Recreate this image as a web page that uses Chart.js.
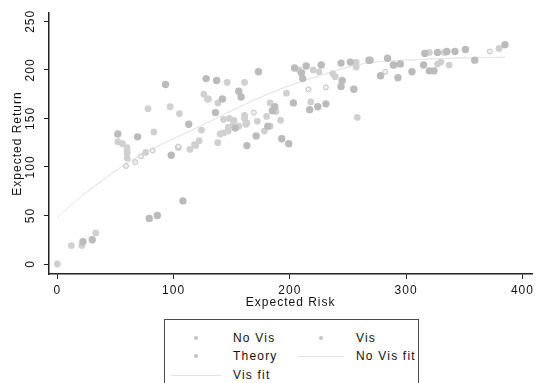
<!DOCTYPE html>
<html>
<head>
<meta charset="utf-8">
<title>Expected Return vs Expected Risk</title>
<script src="https://cdn.jsdelivr.net/npm/chart.js@4.4.1/dist/chart.umd.min.js"></script>
<style>
  html, body { margin: 0; padding: 0; background: #fff; overflow: hidden; }
  #wrap { position: relative; width: 538px; height: 383px; }
  #legend {
    position: absolute; left: 164px; top: 319px; width: 255px; height: 80px;
    box-sizing: border-box; border: 1.5px solid #4a4a4a; background: #fff;
    font: 12px "Liberation Sans", Arial, sans-serif; letter-spacing: 1.2px; color: #111;
  }
  .lg-dot { position: absolute; width: 4px; height: 4px; border-radius: 50%; background: #c4c4c4; }
  .lg-line { position: absolute; height: 1px; background: #e2e2e2; }
  .lg-text { position: absolute; line-height: 14px; white-space: nowrap; }
</style>
</head>
<body>
<div id="wrap">
  <canvas id="chart" width="538" height="383"></canvas>
  <div id="legend"></div>
</div>
<script>
// Data ([risk, return])
const noVisPoints = [
  [0,0],[12,19],[21,19],[33,32],[78,160],[97,162],[105,155],[126,175],[129,170],[83,136],
  [124,138],[52,126],[56,124],[60,120],[60,116],[60,114],[60,109],[76,115],[104,120],[114,118],
  [118,123],[122,127],[146,187],[161,187],[208,200],[220,200],[225,198],[237,196],[239,193],[257,208],
  [257,203],[197,176],[138,166],[130,170],[143,149],[148,150],[152,148],[161,150],[162,144],[156,142],
  [172,147],[183,166],[180,152],[183,142],[192,148],[218,167],[258,151],[147,141],[151,143],[140,134],
  [143,135],[147,137],[138,125],[178,137],[163,145],[161,153],[320,218],[333,218],[327,206],[330,208],
  [337,205],[380,222],[290,205],[188,157],[119,122]
];
const visPoints = [
  [22,23],[30,25],[79,47],[86,50],[108,65],[93,185],[128,191],[52,134],[69,131],[113,144],
  [156,178],[158,172],[173,198],[204,202],[210,197],[214,204],[227,205],[211,191],[244,207],[252,208],
  [268,210],[245,189],[255,180],[231,165],[224,162],[203,166],[187,162],[193,129],[199,124],[284,212],
  [289,205],[295,206],[293,192],[315,205],[320,199],[324,199],[316,217],[327,218],[335,219],[342,219],
  [351,221],[359,210],[385,226],[305,198],[137,189],[142,170],[136,156],[153,140],[171,132],[163,122],
  [181,142],[185,158],[217,159],[244,183],[269,210],[278,194],[98,112]
];
const theoryPoints = [
  [59,101],[67,105],[72,111],[82,117],[104,121],[169,156],[231,182],[282,198],[372,219],[216,180]
];
const noVisFit = [[0,48],[22,71],[64,107],[121,141],[181,175],[220,192],[266,207],[300,210],[340,212],[385,213]];
const visFit = [[22,71],[64,107],[121,141],[181,175],[220,192],[266,207],[300,210],[340,212],[385,213]];

const seriesNames = ["No Vis", "Vis", "Theory", "No Vis fit", "Vis fit"];
const xTicks = [0, 100, 200, 300, 400];
const yTicks = [0, 50, 100, 150, 200, 250];
const xTitle = "Expected Risk";
const yTitle = "Expected Return";

const toXY = (pairs) => pairs.map(p => ({ x: p[0], y: p[1] }));
const font = { family: '"Liberation Sans", Arial, sans-serif', size: 12 };

// Stata-ish text is a bit letter-spaced
const spacing = {
  id: "spacing",
  beforeUpdate(chart) { chart.ctx.letterSpacing = "1px"; },
  beforeDraw(chart) { chart.ctx.letterSpacing = "1px"; }
};

// 1. Chart
new Chart(document.getElementById("chart"), {
  type: "scatter",
  data: {
    datasets: [
      { label: seriesNames[0], data: toXY(noVisPoints), backgroundColor: "#d0d0d0", borderWidth: 0, pointRadius: 3.4, order: 2 },
      { label: seriesNames[1], data: toXY(visPoints), backgroundColor: "#bbbbbb", borderWidth: 0, pointRadius: 3.7, order: 1 },
      { label: seriesNames[2], data: toXY(theoryPoints), backgroundColor: "#efefef", borderColor: "#c2c2c2", borderWidth: 1, pointRadius: 2.5, order: 0 },
      { label: seriesNames[3], data: toXY(noVisFit), showLine: true, borderColor: "#e6e6e6", borderWidth: 1, pointRadius: 0, tension: 0.4, cubicInterpolationMode: "monotone", order: 5 },
      { label: seriesNames[4], data: toXY(visFit), showLine: true, borderColor: "#e6e6e6", borderWidth: 1, pointRadius: 0, tension: 0.4, cubicInterpolationMode: "monotone", order: 4 }
    ]
  },
  options: {
    responsive: false,
    animation: false,
    layout: { padding: { top: 13, right: 1, bottom: 73, left: 0 } },
    plugins: { legend: { display: false }, tooltip: { enabled: false } },
    scales: {
      x: {
        type: "linear", min: -7.2, max: 408.5,
        afterFit(s) { s.height = 36; },
        afterBuildTicks(s) { s.ticks = xTicks.map(v => ({ value: v })); },
        grid: { drawOnChartArea: false, drawTicks: true, tickLength: 5, color: "#222" },
        border: { color: "#222", width: 1.5 },
        ticks: { color: "#111", font, padding: 4, maxRotation: 0, minRotation: 0 },
        title: { display: true, text: xTitle, color: "#111", font, padding: { top: 0, bottom: 0 } }
      },
      y: {
        type: "linear", min: -10.3, max: 258.6,
        afterFit(s) { s.width = 49; },
        afterBuildTicks(s) { s.ticks = yTicks.map(v => ({ value: v })); },
        grid: { drawOnChartArea: false, drawTicks: true, tickLength: 5, color: "#222" },
        border: { color: "#222", width: 1.5 },
        ticks: { color: "#111", font, padding: 2, minRotation: 90, maxRotation: 90, crossAlign: "center" },
        title: { display: true, text: yTitle, color: "#111", font, padding: { top: 10, bottom: 0 } }
      }
    }
  },
  plugins: [spacing]
});

// 2. Legend (box under the plot, Stata style)
const legendItems = [
  { name: seriesNames[0], kind: "dot", x: 31, tx: 68, y: 18 },
  { name: seriesNames[1], kind: "dot", x: 156, tx: 191, y: 18 },
  { name: seriesNames[2], kind: "dot", x: 31, tx: 68, y: 36 },
  { name: seriesNames[3], kind: "line", x: 133, w: 46, tx: 191, y: 36 },
  { name: seriesNames[4], kind: "line", x: 6, w: 50, tx: 68, y: 55 }
];
const legend = document.getElementById("legend");
legendItems.forEach(it => {
  const mark = document.createElement("div");
  if (it.kind === "dot") {
    mark.className = "lg-dot";
    mark.style.left = (it.x - 2) + "px";
    mark.style.top = (it.y - 2) + "px";
  } else {
    mark.className = "lg-line";
    mark.style.left = it.x + "px";
    mark.style.width = it.w + "px";
    mark.style.top = it.y + "px";
  }
  legend.appendChild(mark);
  const label = document.createElement("div");
  label.className = "lg-text";
  label.textContent = it.name;
  label.style.left = it.tx + "px";
  label.style.top = (it.y - 7) + "px";
  legend.appendChild(label);
});
</script>
</body>
</html>
